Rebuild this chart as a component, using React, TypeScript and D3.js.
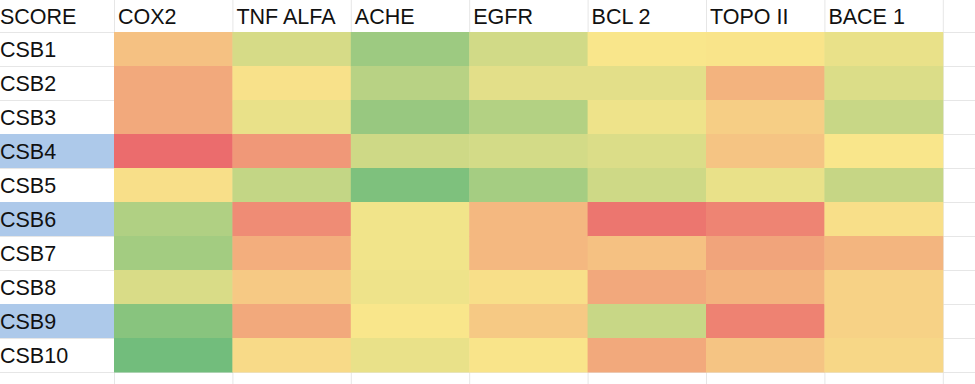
import { useEffect, useRef } from "react";
import * as d3 from "d3";

// rows and columns of the sheet
const targets = ["COX2", "TNF ALFA", "ACHE", "EGFR", "BCL 2", "TOPO II", "BACE 1"];
const compounds = ["CSB1", "CSB2", "CSB3", "CSB4", "CSB5", "CSB6", "CSB7", "CSB8", "CSB9", "CSB10"];
const highlighted = ["CSB4", "CSB6", "CSB9"];

// relative score per target (0 = worst / red, 1 = best / green), one value per compound
const cox2 = [0.35, 0.25, 0.25, 0.0, 0.47, 0.77, 0.82, 0.62, 0.92, 1.0];
const tnfAlfa = [0.63, 0.48, 0.56, 0.18, 0.7, 0.13, 0.27, 0.38, 0.25, 0.45];
const ache = [0.84, 0.74, 0.86, 0.66, 0.955, 0.53, 0.53, 0.54, 0.5, 0.56];
const egfr = [0.65, 0.58, 0.76, 0.64, 0.81, 0.31, 0.31, 0.47, 0.38, 0.49];
const bcl2 = [0.5, 0.58, 0.54, 0.61, 0.66, 0.04, 0.35, 0.245, 0.68, 0.25];
const topo2 = [0.49, 0.29, 0.4, 0.36, 0.56, 0.1, 0.23, 0.29, 0.09, 0.36];
const bace1 = [0.56, 0.61, 0.68, 0.5, 0.69, 0.47, 0.3, 0.42, 0.42, 0.44];

const series = [cox2, tnfAlfa, ache, egfr, bcl2, topo2, bace1];

export default function App() {
  const svgRef = useRef<SVGSVGElement | null>(null);

  useEffect(() => {
    if (!svgRef.current) return;
    const width = 975;
    const height = 384;
    const labelW = 114;
    const headerH = 32;
    const rowH = 34;
    const colW = 118.4;

    const svg = d3.select(svgRef.current).attr("width", width).attr("height", height);
    svg.selectAll("*").remove();

    const x = d3
      .scaleBand()
      .domain(targets)
      .range([labelW, labelW + colW * targets.length]);
    const y = d3
      .scaleBand()
      .domain(compounds)
      .range([headerH, headerH + rowH * compounds.length]);

    const color = d3
      .scaleLinear<string>()
      .domain([0, 0.5, 1])
      .range(["#eb6c6d", "#f9e68b", "#72bd7c"])
      .interpolate(d3.interpolateRgb);

    const font = "'Liberation Sans', Arial, sans-serif";
    const grid = "#e6e6e6";

    svg.append("rect").attr("width", width).attr("height", height).attr("fill", "#fff");

    // sheet gridlines
    const gridG = svg.append("g").attr("stroke", grid).attr("stroke-width", 1);
    const colEdges = [labelW, ...targets.map((t) => (x(t) || 0) + x.bandwidth())];
    colEdges.forEach((cx) => {
      gridG.append("line").attr("x1", cx + 0.5).attr("x2", cx + 0.5).attr("y1", 0).attr("y2", height);
    });
    const rowEdges = [headerH, ...compounds.map((c) => (y(c) || 0) + y.bandwidth())];
    rowEdges.forEach((cy) => {
      gridG.append("line").attr("x1", 0).attr("x2", width).attr("y1", cy + 0.5).attr("y2", cy + 0.5);
    });

    // highlighted row labels
    svg
      .selectAll(".hl")
      .data(highlighted)
      .enter()
      .append("rect")
      .attr("x", 0)
      .attr("y", (d) => y(d) || 0)
      .attr("width", labelW)
      .attr("height", y.bandwidth())
      .attr("fill", "#adc9ea");

    // cells
    const cells = targets.flatMap((t, i) =>
      compounds.map((c, j) => ({ target: t, compound: c, value: series[i][j] }))
    );
    svg
      .selectAll(".cell")
      .data(cells)
      .enter()
      .append("rect")
      .attr("class", "cell")
      .attr("x", (d) => x(d.target) || 0)
      .attr("y", (d) => y(d.compound) || 0)
      .attr("width", x.bandwidth() + 0.5)
      .attr("height", y.bandwidth() + 0.5)
      .attr("fill", (d) => color(d.value));

    // header
    svg
      .append("text")
      .attr("x", 0)
      .attr("y", headerH / 2)
      .attr("dy", "0.36em")
      .attr("font-family", font)
      .attr("font-size", 21.5)
      .attr("fill", "#111")
      .text("SCORE");
    svg
      .selectAll(".head")
      .data(targets)
      .enter()
      .append("text")
      .attr("x", (d) => (x(d) || 0) + 4)
      .attr("y", headerH / 2)
      .attr("dy", "0.36em")
      .attr("font-family", font)
      .attr("font-size", 21.5)
      .attr("fill", "#111")
      .text((d) => d);

    // row labels
    svg
      .selectAll(".rowlab")
      .data(compounds)
      .enter()
      .append("text")
      .attr("x", 0)
      .attr("y", (d) => (y(d) || 0) + y.bandwidth() / 2)
      .attr("dy", "0.36em")
      .attr("font-family", font)
      .attr("font-size", 21.5)
      .attr("fill", "#111")
      .text((d) => d);
  }, []);

  return (
    <svg
      ref={svgRef}
      style={{ position: "absolute", left: 0, top: 0, display: "block" }}
    ></svg>
  );
}
